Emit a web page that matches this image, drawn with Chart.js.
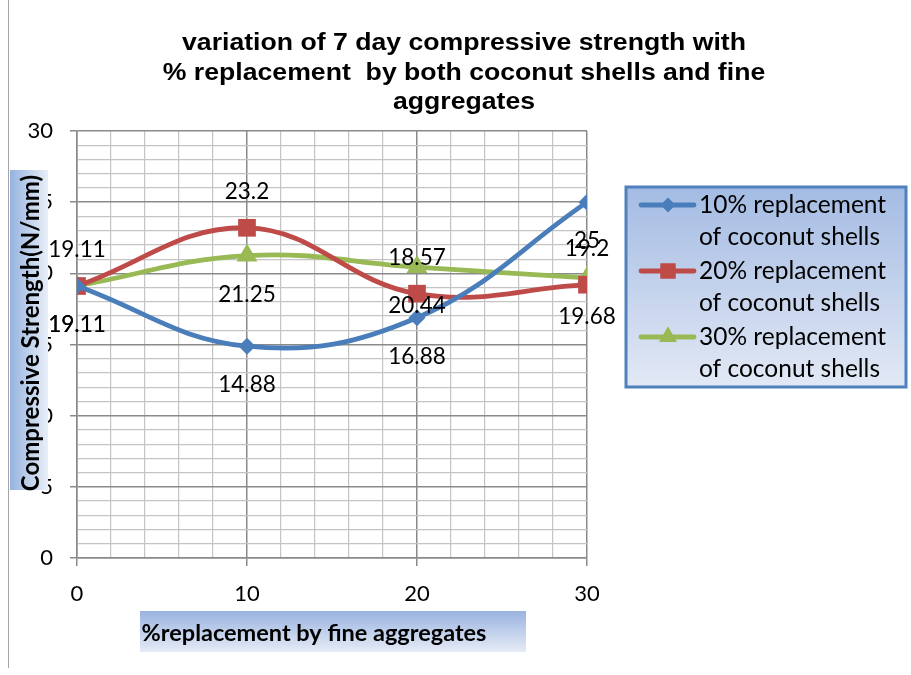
<!DOCTYPE html>
<html><head><meta charset="utf-8">
<script src="https://cdn.jsdelivr.net/npm/chart.js@4"></script>
<style>html,body{margin:0;padding:0;background:#fff}canvas{display:block}</style>
</head><body>
<canvas id="c" width="911" height="675"></canvas>
<script>
const xValues = [0, 10, 20, 30];
const series10 = [19.11, 14.88, 16.88, 25];
const series20 = [19.11, 23.2, 18.57, 19.2];
const series30 = [19.11, 21.25, 20.44, 19.68];
const seriesNames = ['10% replacement of coconut shells', '20% replacement of coconut shells', '30% replacement of coconut shells'];
const legendLines = [['10% replacement', 'of coconut shells'], ['20% replacement', 'of coconut shells'], ['30% replacement', 'of coconut shells']];
const titleLines = ['variation of 7 day compressive strength with', '% replacement  by both coconut shells and fine', 'aggregates'];
const yTitle = 'Compressive Strength(N/mm)';
const xTitle = '%replacement by fine aggregates';

const colors = ['#4A7EBB', '#BE4B48', '#98B954'];
const styles = ['rectRot', 'rect', 'triangle'];
const radii = [8.5, 12.5, 12];
const labelOffsets = [39, -36, 39];
const allSeries = [series10, series20, series30];

const FONT = 'Lato, "Open Sans", sans-serif';

function mk(i) {
  return {
    label: seriesNames[i],
    data: xValues.map((x, k) => ({x: x, y: allSeries[i][k]})),
    borderColor: colors[i], backgroundColor: colors[i],
    borderWidth: 4.8, tension: 0.4,
    pointStyle: styles[i], pointRadius: radii[i], pointHoverRadius: radii[i],
    pointBorderWidth: 0
  };
}

const deco = {
  id: 'deco',
  beforeDraw(chart) {
    const c = chart.ctx;
    c.save();
    c.fillStyle = '#fff'; c.fillRect(0, 0, chart.width, chart.height);
    c.strokeStyle = '#A6A6A6'; c.lineWidth = 1;
    c.beginPath(); c.moveTo(8.5, 0); c.lineTo(8.5, 668); c.stroke();
    c.restore();
  },
  afterDraw(chart) {
    const c = chart.ctx, xs = chart.scales.x, ys = chart.scales.y;
    c.save();
    // title
    c.fillStyle = '#000'; c.textAlign = 'center'; c.textBaseline = 'middle';
    c.font = 'bold 23px "Liberation Sans", Arial, sans-serif';
    const sx = 564 / c.measureText(titleLines[0]).width;
    titleLines.forEach((t, i) => {
      c.save(); c.translate(464, 44 + i * 29.5); c.scale(sx, 1); c.fillText(t, 0, 0); c.restore();
    });
    // data labels
    c.font = '22.5px ' + FONT;
    allSeries.forEach((s, i) => {
      s.forEach((v, k) => {
        c.fillText(String(v), xs.getPixelForValue(xValues[k]), ys.getPixelForValue(v) + labelOffsets[i]);
      });
    });
    // y title box
    let g = c.createLinearGradient(10, 0, 48, 0);
    g.addColorStop(0, '#95B3DF'); g.addColorStop(1, '#E9EFF8');
    c.fillStyle = g; c.fillRect(10, 170, 38, 320);
    c.save(); c.translate(31, 333); c.rotate(-Math.PI / 2);
    c.fillStyle = '#000'; c.font = 'bold 24px ' + FONT; c.fillText(yTitle, 0, 0);
    c.restore();
    // x title box
    g = c.createLinearGradient(0, 611, 0, 652);
    g.addColorStop(0, '#9AB3E0'); g.addColorStop(1, '#E5EBF6');
    c.fillStyle = g; c.fillRect(140, 611, 386, 41);
    c.fillStyle = '#000'; c.font = 'bold 23.5px ' + FONT; c.fillText(xTitle, 314, 633);
    // legend
    g = c.createLinearGradient(0, 186, 0, 388);
    g.addColorStop(0, '#A3BBE3'); g.addColorStop(1, '#E3E9F5');
    c.fillStyle = g; c.fillRect(626, 187, 280, 200);
    c.strokeStyle = '#4F81BD'; c.lineWidth = 3; c.strokeRect(626, 187, 280, 200);
    legendLines.forEach((ls, i) => {
      const y0 = 205 + i * 66;
      c.strokeStyle = colors[i]; c.lineWidth = 4.8; c.lineCap = 'round';
      c.beginPath(); c.moveTo(641, y0); c.lineTo(694, y0); c.stroke();
      c.fillStyle = colors[i];
      Chart.helpers.drawPoint(c, {pointStyle: styles[i], radius: radii[i] * 0.85, borderWidth: 0}, 668, y0);
      c.fill();
      c.fillStyle = '#000'; c.textAlign = 'left'; c.font = '24.5px ' + FONT;
      ls.forEach((t, j) => c.fillText(t, 699, y0 + j * 32));
      c.textAlign = 'center';
    });
    c.restore();
  }
};

new Chart(document.getElementById('c'), {
  type: 'line',
  data: {datasets: [mk(0), mk(1), mk(2)]},
  options: {
    responsive: false, animation: false,
    layout: {padding: {left: 0, right: 324, top: 131, bottom: 0}},
    plugins: {legend: {display: false}, title: {display: false}, tooltip: {enabled: false}},
    scales: {
      x: {
        type: 'linear', min: 0, max: 30,
        afterFit(s) { s.height = 117; },
        ticks: {stepSize: 2, autoSkip: false, maxRotation: 0, color: '#000', font: {size: 22, family: FONT}, padding: 15,
          callback: v => (v % 10 === 0 ? String(v) : '')},
        grid: {color: ctx => (ctx.tick && ctx.tick.value % 10 === 0 ? '#8A8A8A' : '#C4C4C4'),
          lineWidth: ctx => (ctx.tick && ctx.tick.value % 10 === 0 ? 1.5 : 1.2),
          tickColor: ctx => (ctx.tick && ctx.tick.value % 10 === 0 ? '#8A8A8A' : 'rgba(0,0,0,0)'), tickLength: 8},
        border: {color: '#8A8A8A', width: 1.5}
      },
      y: {
        min: 0, max: 30,
        afterFit(s) { s.width = 77; },
        ticks: {stepSize: 1, autoSkip: false, color: '#000', font: {size: 22, family: FONT}, padding: 17,
          callback: v => (v % 5 === 0 ? String(v) : '')},
        grid: {color: ctx => (ctx.tick && ctx.tick.value % 5 === 0 ? '#8A8A8A' : '#C4C4C4'),
          lineWidth: ctx => (ctx.tick && ctx.tick.value % 5 === 0 ? 1.5 : 1.2),
          tickColor: ctx => (ctx.tick && ctx.tick.value % 5 === 0 ? '#8A8A8A' : 'rgba(0,0,0,0)'), tickLength: 7},
        border: {color: '#8A8A8A', width: 1.5}
      }
    }
  },
  plugins: [deco]
});
</script>
</body></html>
